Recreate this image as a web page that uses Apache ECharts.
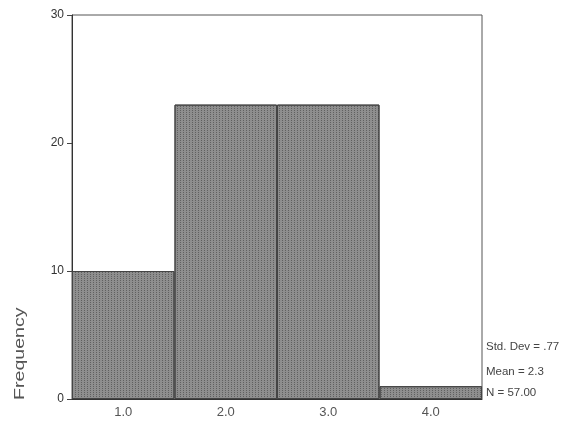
<!DOCTYPE html>
<html>
<head>
<meta charset="utf-8">
<script src="https://cdn.jsdelivr.net/npm/echarts@6/dist/echarts.min.js"></script>
<style>html,body{margin:0;padding:0;background:#fff;}#c{width:584px;height:423px;}</style>
</head>
<body>
<div id="c"></div>
<script>
const categories = ['1.0', '2.0', '3.0', '4.0'];
const frequencies = [10, 23, 23, 1];
const statLines = ['Std. Dev = .77', 'Mean = 2.3', 'N = 57.00'];
const yAxisName = 'Frequency';

const chart = echarts.init(document.getElementById('c'), null, {renderer: 'canvas'});
const font = 'Liberation Sans, Arial, sans-serif';
chart.setOption({
  backgroundColor: '#ffffff',
  animation: false,
  grid: {left: 72, right: 102, top: 15, bottom: 24, show: true, borderColor: '#555', borderWidth: 1, backgroundColor: 'transparent'},
  xAxis: {
    type: 'category',
    data: categories,
    boundaryGap: true,
    axisLine: {lineStyle: {color: '#333', width: 1}},
    axisTick: {alignWithLabel: true, length: 4, lineStyle: {color: '#444'}},
    axisLabel: {color: '#555', fontSize: 13, fontFamily: font, margin: 7}
  },
  yAxis: {
    type: 'value',
    min: 0, max: 30, interval: 10,
    splitLine: {show: false},
    axisLine: {show: true, lineStyle: {color: '#333', width: 1}},
    axisTick: {show: true, length: 5, lineStyle: {color: '#444'}},
    axisLabel: {color: '#333', fontSize: 12, fontFamily: font, margin: 8}
  },
  series: [{
    type: 'bar',
    data: frequencies,
    barCategoryGap: '0%',
    itemStyle: {
      color: '#8e8e8e',
      borderColor: '#444',
      borderWidth: 1,
      decal: {
        symbol: 'rect',
        color: 'rgba(40,40,40,0.45)',
        dashArrayX: [1, 2],
        dashArrayY: [1, 1],
        symbolSize: 1
      }
    }
  }],
  graphic: [
    {type: 'text', x: 13, y: 400, rotation: Math.PI / 2, scaleX: 1.4, scaleY: 1,
     style: {text: yAxisName, fill: '#555', font: '14px ' + font, textAlign: 'left', textVerticalAlign: 'top'}},
    {type: 'text', left: 486, top: 341, style: {text: statLines[0], fill: '#444', font: '11.5px ' + font}},
    {type: 'text', left: 486, top: 366, style: {text: statLines[1], fill: '#444', font: '11.5px ' + font}},
    {type: 'text', left: 486, top: 387, style: {text: statLines[2], fill: '#444', font: '11.5px ' + font}}
  ]
});
</script>
</body>
</html>
